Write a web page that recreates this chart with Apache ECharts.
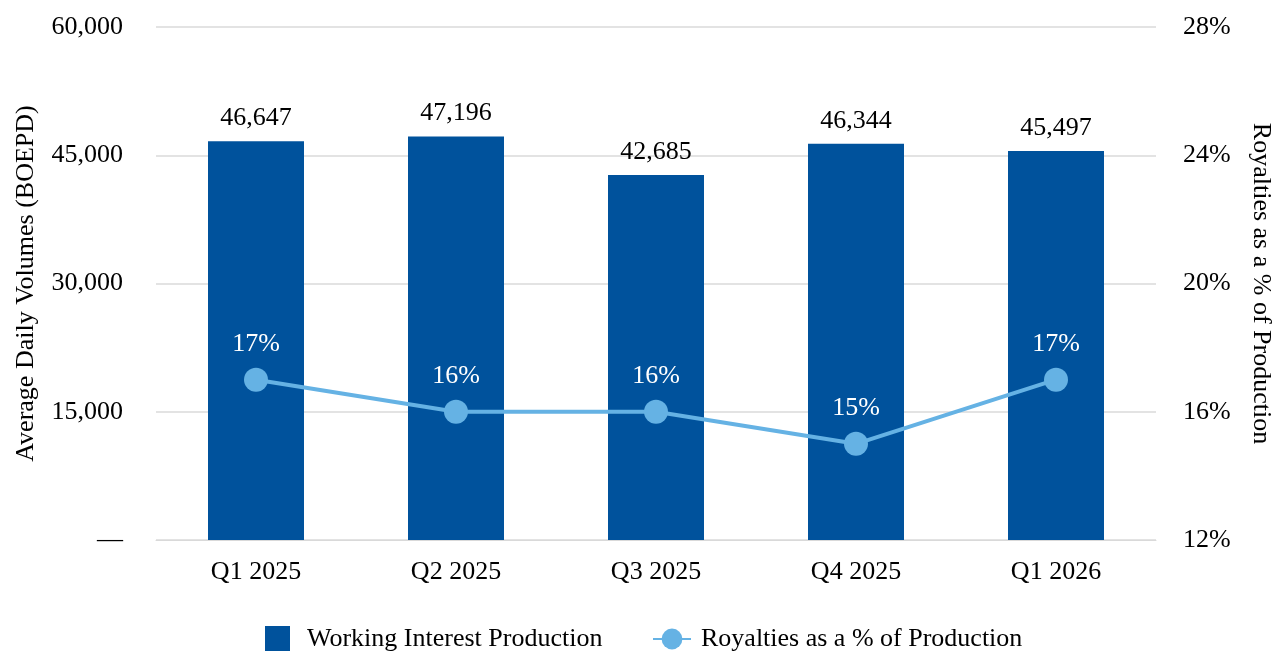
<!DOCTYPE html>
<html><head><meta charset="utf-8">
<script src="https://cdn.jsdelivr.net/npm/echarts@6/dist/echarts.min.js"></script>
<style>html,body{margin:0;padding:0;background:#fff}#c{width:1277px;height:651px}</style>
</head><body><div id="c"></div>
<script>
const categories = ['Q1 2025','Q2 2025','Q3 2025','Q4 2025','Q1 2026'];
const workingInterest = [46647, 47196, 42685, 46344, 45497];
const royaltiesPct = [17, 16, 16, 15, 17];
const leftTicks = [0, 15000, 30000, 45000, 60000];
const rightTicks = [12, 16, 20, 24, 28];

const FONT = 'Liberation Serif';
const FS = 26;
const BAR_COLOR = '#00529C';
const LINE_COLOR = '#65B2E4';
const chart = echarts.init(document.getElementById('c'));
chart.setOption({
  animation: false,
  textStyle: {fontFamily: FONT},
  grid: {left: 156, right: 121, top: 27, bottom: 111, containLabel: false, outerBoundsMode: 'none'},
  legend: [{
    top: 626, left: 265, padding: 0, itemWidth: 25, itemHeight: 26,
    textStyle: {fontFamily: FONT, fontSize: FS, color: '#000', padding: [0, 0, 0, 12]},
    data: [{name: 'Working Interest Production', icon: 'rect', itemStyle: {color: BAR_COLOR}}]
  }, {
    top: 626, left: 652, padding: 0, itemWidth: 38, itemHeight: 26,
    textStyle: {fontFamily: FONT, fontSize: FS, color: '#000', padding: [0, 0, 0, 5]},
    data: [{name: 'Royalties as a % of Production'}]
  }],
  xAxis: {
    type: 'category', data: categories,
    axisLine: {show: true, lineStyle: {color: '#d9d9d9', width: 1}},
    axisTick: {show: false},
    axisLabel: {fontFamily: FONT, fontSize: FS, color: '#000', margin: 19}
  },
  yAxis: [{
    type: 'value', min: leftTicks[0], max: leftTicks[leftTicks.length-1], interval: 15000,
    name: 'Average Daily Volumes (BOEPD)', nameLocation: 'middle', nameGap: 117, nameRotate: 90,
    nameTextStyle: {fontFamily: FONT, fontSize: FS, color: '#000'},
    axisLine: {show: false}, axisTick: {show: false},
    splitLine: {lineStyle: {color: '#e3e3e3', width: 2}},
    axisLabel: {fontFamily: FONT, fontSize: FS, color: '#000', margin: 33,
      formatter: v => v === 0 ? '—' : v.toLocaleString('en-US')}
  }, {
    type: 'value', min: rightTicks[0], max: rightTicks[rightTicks.length-1], interval: 4,
    name: 'Royalties as a % of Production', nameLocation: 'middle', nameGap: 92, nameRotate: -90,
    nameTextStyle: {fontFamily: FONT, fontSize: FS, color: '#000'},
    axisLine: {show: false}, axisTick: {show: false}, splitLine: {show: false},
    axisLabel: {fontFamily: FONT, fontSize: FS, color: '#000', margin: 27, formatter: v => v + '%'}
  }],
  series: [{
    name: 'Working Interest Production', type: 'bar', data: workingInterest, barWidth: '48%',
    itemStyle: {color: BAR_COLOR},
    label: {show: true, position: 'top', distance: 10, fontFamily: FONT, fontSize: FS, color: '#000',
      formatter: p => p.value.toLocaleString('en-US')}
  }, {
    name: 'Royalties as a % of Production', type: 'line', yAxisIndex: 1, data: royaltiesPct,
    symbol: 'circle', symbolSize: 24,
    lineStyle: {color: LINE_COLOR, width: 4}, itemStyle: {color: LINE_COLOR},
    label: {show: true, position: 'top', distance: 11, fontFamily: FONT, fontSize: FS, color: '#fff',
      formatter: p => p.value + '%'}
  }]
});
</script></body></html>
